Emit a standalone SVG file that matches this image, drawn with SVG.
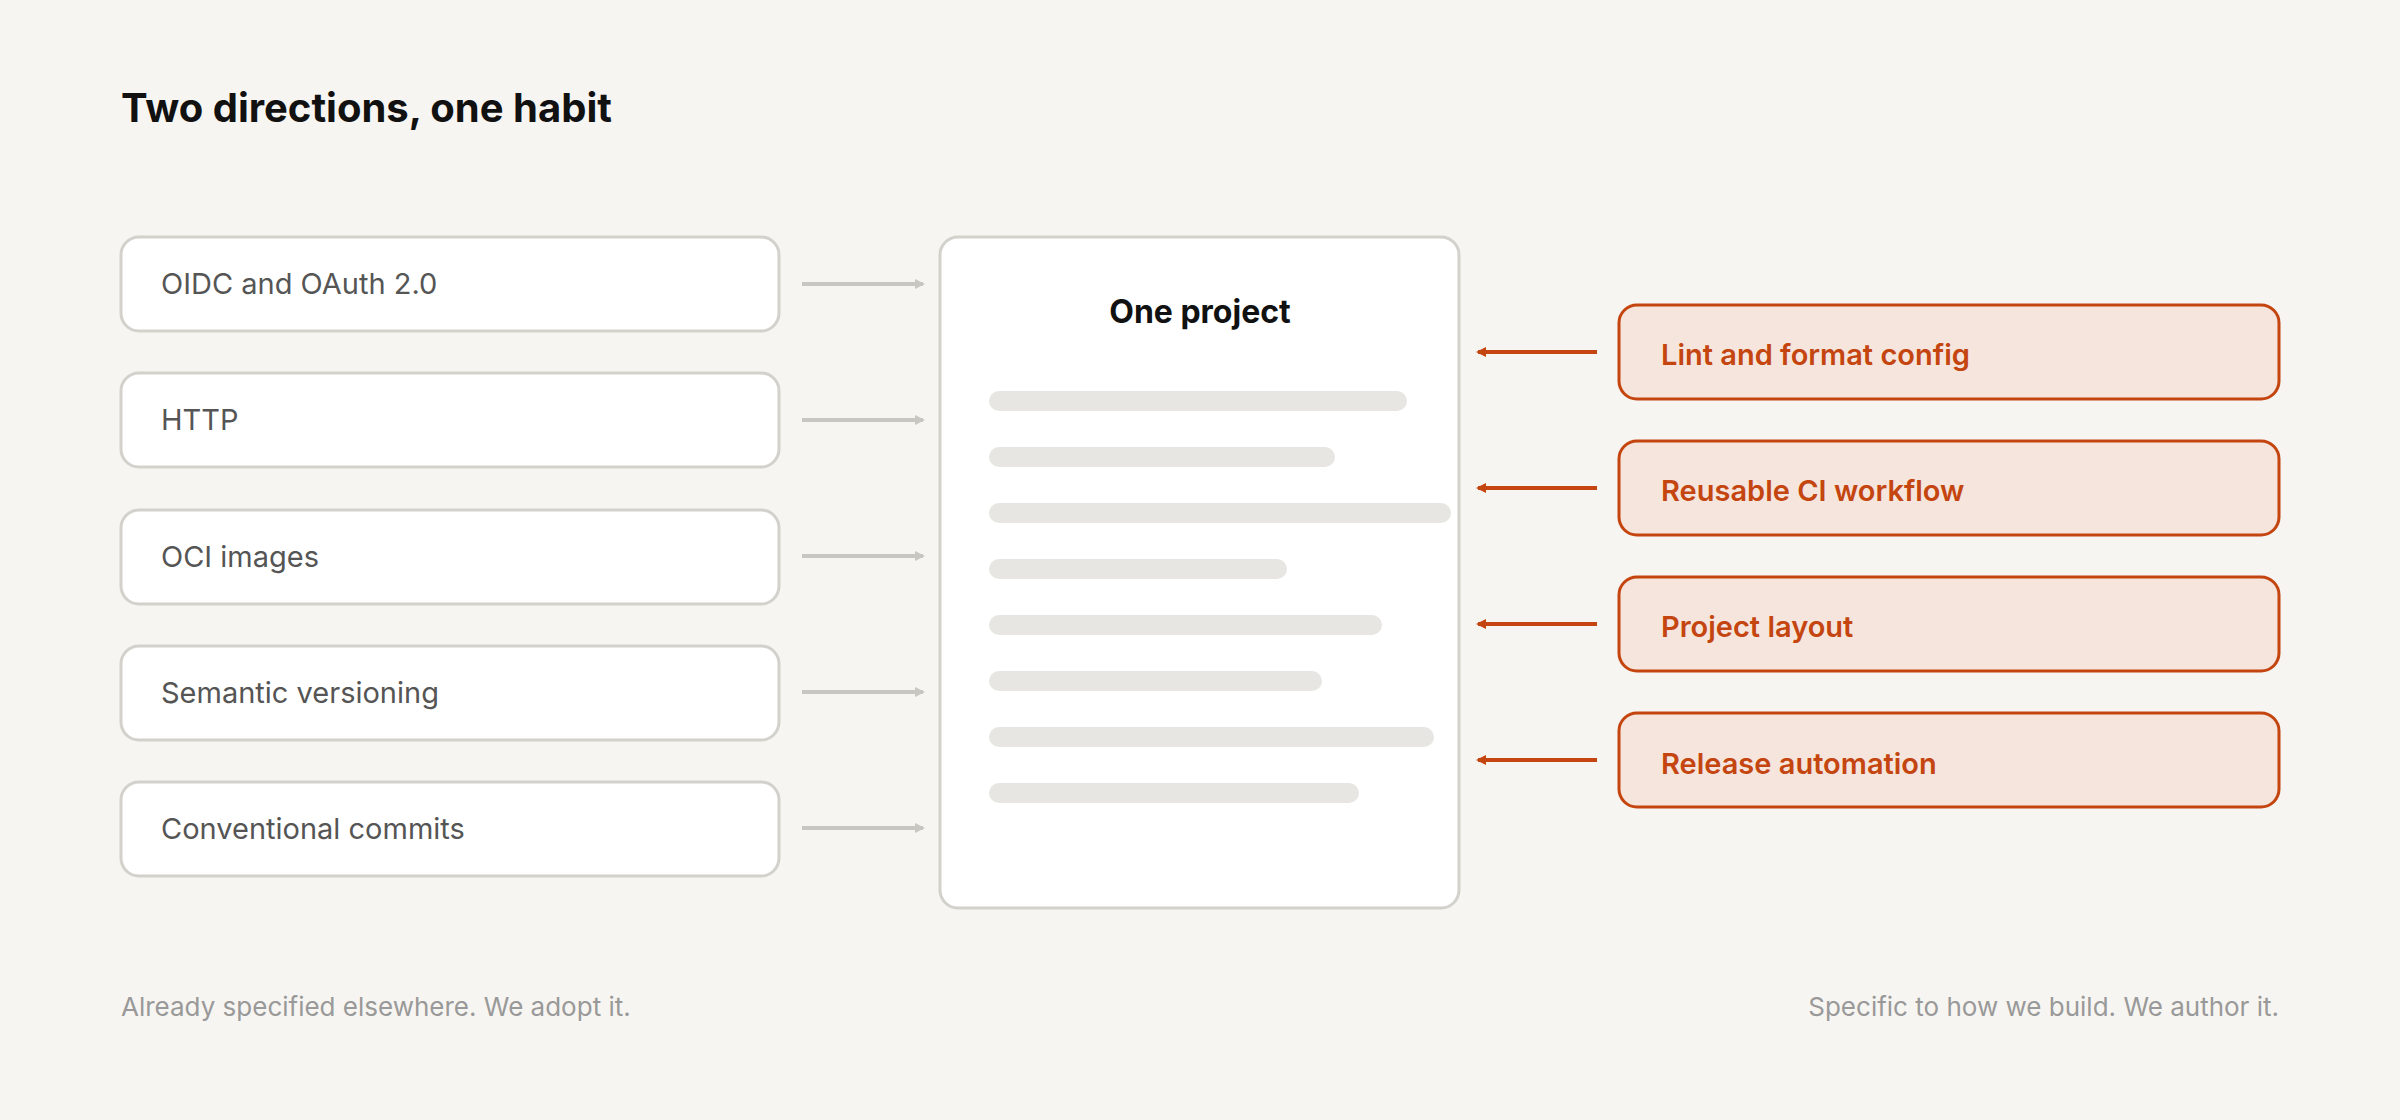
<svg xmlns="http://www.w3.org/2000/svg" width="2400" height="1120" viewBox="0 0 2400 1120">
<style>
.t{font-family:Inter,"Liberation Sans",sans-serif}
.lb{fill:#fff;stroke:#d3d1cc;stroke-width:3}
.lt{font-size:29px;fill:#555}
.rb{fill:#f5e5dc;stroke:#c4450f;stroke-width:3}
.rt{font-size:29px;font-weight:600;fill:#c4450f}
.bar{stroke:#e8e6e2;stroke-width:20;stroke-linecap:round}
.ga{stroke:#c8c6c1;stroke-width:4}
.oa{stroke:#c4450f;stroke-width:4}
.ft{font-size:26px;fill:#999}
</style>
<defs>
<marker id="mg" markerWidth="10" markerHeight="10" refX="8" refY="5" orient="auto" markerUnits="userSpaceOnUse" viewBox="0 0 10 10"><path d="M0,0L10,5L0,10z" fill="#c8c6c1"/></marker>
<marker id="mo" markerWidth="10" markerHeight="10" refX="8" refY="5" orient="auto" markerUnits="userSpaceOnUse" viewBox="0 0 10 10"><path d="M0,0L10,5L0,10z" fill="#c4450f"/></marker>
</defs>
<rect width="2400" height="1120" fill="#f7f5f1"/>
<text class="t" x="121" y="122" font-size="40" font-weight="700" fill="#111">Two directions, one habit</text>
<g id="l1"><rect class="lb" x="121" y="237" width="658" height="94" rx="18"/><text class="t lt" x="161" y="294">OIDC and OAuth 2.0</text></g>
<g id="l2"><rect class="lb" x="121" y="373" width="658" height="94" rx="18"/><text class="t lt" x="161" y="430">HTTP</text></g>
<g id="l3"><rect class="lb" x="121" y="510" width="658" height="94" rx="18"/><text class="t lt" x="161" y="567">OCI images</text></g>
<g id="l4"><rect class="lb" x="121" y="646" width="658" height="94" rx="18"/><text class="t lt" x="161" y="703">Semantic versioning</text></g>
<g id="l5"><rect class="lb" x="121" y="782" width="658" height="94" rx="18"/><text class="t lt" x="161" y="839">Conventional commits</text></g>
<g id="doc"><rect class="lb" x="940" y="237" width="519" height="671" rx="18"/>
<text class="t" x="1200" y="323" font-size="32" font-weight="700" fill="#111" text-anchor="middle">One project</text>
<line class="bar" x1="999" y1="401" x2="1397" y2="401"/>
<line class="bar" x1="999" y1="457" x2="1325" y2="457"/>
<line class="bar" x1="999" y1="513" x2="1441" y2="513"/>
<line class="bar" x1="999" y1="569" x2="1277" y2="569"/>
<line class="bar" x1="999" y1="625" x2="1372" y2="625"/>
<line class="bar" x1="999" y1="681" x2="1312" y2="681"/>
<line class="bar" x1="999" y1="737" x2="1424" y2="737"/>
<line class="bar" x1="999" y1="793" x2="1349" y2="793"/></g>
<g id="r1"><rect class="rb" x="1619" y="305" width="660" height="94" rx="18"/><text class="t rt" x="1661" y="365">Lint and format config</text></g>
<g id="r2"><rect class="rb" x="1619" y="441" width="660" height="94" rx="18"/><text class="t rt" x="1661" y="501">Reusable CI workflow</text></g>
<g id="r3"><rect class="rb" x="1619" y="577" width="660" height="94" rx="18"/><text class="t rt" x="1661" y="637">Project layout</text></g>
<g id="r4"><rect class="rb" x="1619" y="713" width="660" height="94" rx="18"/><text class="t rt" x="1661" y="774">Release automation</text></g>
<g id="connectors">
<line class="ga" x1="802" y1="284" x2="923" y2="284" marker-end="url(#mg)"/>
<line class="ga" x1="802" y1="420" x2="923" y2="420" marker-end="url(#mg)"/>
<line class="ga" x1="802" y1="556" x2="923" y2="556" marker-end="url(#mg)"/>
<line class="ga" x1="802" y1="692" x2="923" y2="692" marker-end="url(#mg)"/>
<line class="ga" x1="802" y1="828" x2="923" y2="828" marker-end="url(#mg)"/>
<line class="oa" x1="1597" y1="352" x2="1478" y2="352" marker-end="url(#mo)"/>
<line class="oa" x1="1597" y1="488" x2="1478" y2="488" marker-end="url(#mo)"/>
<line class="oa" x1="1597" y1="624" x2="1478" y2="624" marker-end="url(#mo)"/>
<line class="oa" x1="1597" y1="760" x2="1478" y2="760" marker-end="url(#mo)"/>
</g>
<text class="t ft" x="121" y="1016">Already specified elsewhere. We adopt it.</text>
<text class="t ft" x="2279" y="1016" text-anchor="end">Specific to how we build. We author it.</text>
</svg>
